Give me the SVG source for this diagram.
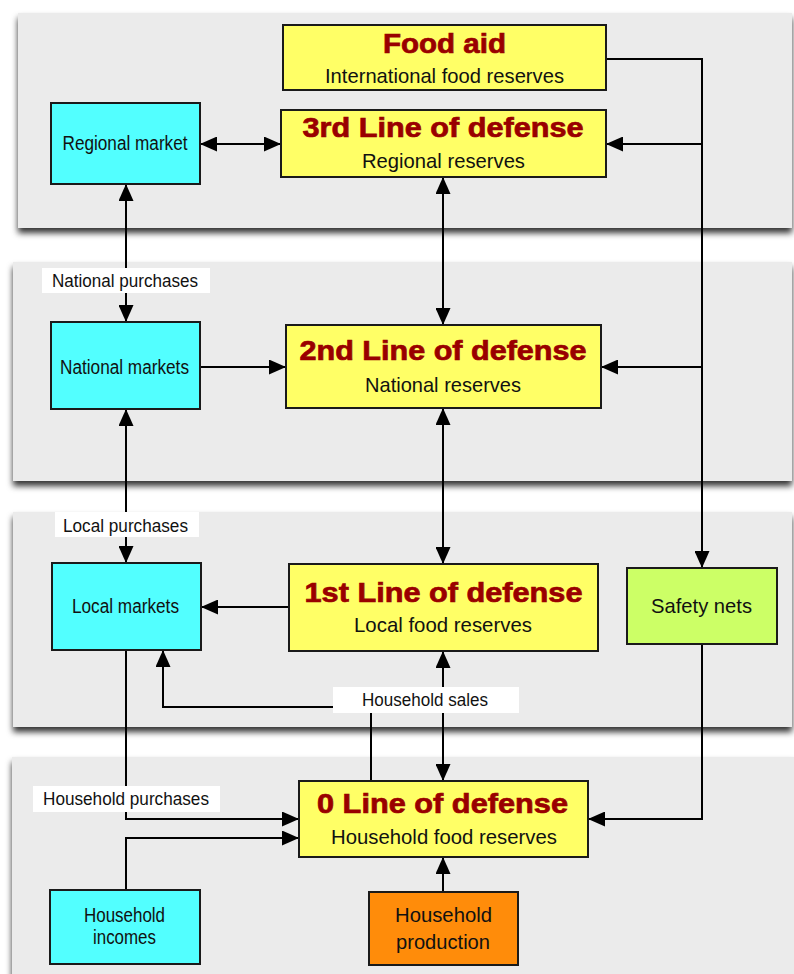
<svg xmlns="http://www.w3.org/2000/svg" width="794" height="974" viewBox="0 0 794 974">
<defs>
<filter id="sh" x="-5%" y="-10%" width="110%" height="125%">
<feDropShadow dx="0" dy="5" stdDeviation="3" flood-color="#000" flood-opacity="0.8"/>
</filter>
<marker id="ah" markerUnits="userSpaceOnUse" markerWidth="17" markerHeight="15" viewBox="0 0 17 15" refX="17" refY="7.5" orient="auto-start-reverse">
<path d="M0,0 L17,7.5 L0,15 z" fill="#000"/>
</marker>
</defs>
<style>
.panel{fill:#ebebeb;}
.box{stroke:#1a1a1a;stroke-width:2;}
.y{fill:#ffff66;}
.c{fill:#52ffff;}
.g{fill:#ccff66;}
.o{fill:#ff8c0a;}
.lbl{fill:#fff;}
.t{font-family:"Liberation Sans",Arial,sans-serif;fill:#111;text-anchor:middle;}
.h{font-family:"Liberation Sans",Arial,sans-serif;font-weight:bold;fill:#990000;stroke:#990000;stroke-width:0.7;text-anchor:middle;font-size:27px;}
.s21{font-size:21px;}
.s20{font-size:20px;}
.s19{font-size:19.5px;}
.s17{font-size:17.5px;}
.ln{fill:none;stroke:#000;stroke-width:2;}
</style>
<rect width="794" height="974" fill="#fff"/>
<g id="panels">
<rect class="panel" x="18" y="13" width="774" height="215" filter="url(#sh)"/>
<rect class="panel" x="13" y="262" width="779" height="219" filter="url(#sh)"/>
<rect class="panel" x="13" y="512" width="779" height="215" filter="url(#sh)"/>
<rect class="panel" x="12" y="757" width="782" height="230" filter="url(#sh)"/>
</g>
<g id="connectors">
<path class="ln" d="M200,144 H281" marker-start="url(#ah)" marker-end="url(#ah)"/>
<path class="ln" d="M606,59 H702 V568" marker-end="url(#ah)"/>
<path class="ln" d="M702,144 H606" marker-end="url(#ah)"/>
<path class="ln" d="M702,367 H601" marker-end="url(#ah)"/>
<path class="ln" d="M443,177 V325" marker-start="url(#ah)" marker-end="url(#ah)"/>
<path class="ln" d="M126,184 V322" marker-start="url(#ah)" marker-end="url(#ah)"/>
<path class="ln" d="M200,367 H286" marker-end="url(#ah)"/>
<path class="ln" d="M443,408 V564" marker-start="url(#ah)" marker-end="url(#ah)"/>
<path class="ln" d="M126,409 V563" marker-start="url(#ah)" marker-end="url(#ah)"/>
<path class="ln" d="M289,607 H201" marker-end="url(#ah)"/>
<path class="ln" d="M371,781 V707 H163 V650" marker-end="url(#ah)"/>
<path class="ln" d="M443,651 V781" marker-start="url(#ah)" marker-end="url(#ah)"/>
<path class="ln" d="M126,650 V819 H299" marker-end="url(#ah)"/>
<path class="ln" d="M126,890 V838 H299" marker-end="url(#ah)"/>
<path class="ln" d="M443,892 V857" marker-end="url(#ah)"/>
<path class="ln" d="M702,644 V819 H588" marker-end="url(#ah)"/>
</g>
<g id="labels">
<g id="lbl-national-purchases"><rect class="lbl" x="42" y="268" width="168" height="25"/><text class="t s17" x="125" y="287" textLength="146" lengthAdjust="spacingAndGlyphs">National purchases</text></g>
<g id="lbl-local-purchases"><rect class="lbl" x="55" y="512" width="144" height="25"/><text class="t s17" x="125.5" y="532" textLength="125" lengthAdjust="spacingAndGlyphs">Local purchases</text></g>
<g id="lbl-household-sales"><rect class="lbl" x="333" y="687" width="186" height="26"/><text class="t s17" x="425" y="706" textLength="126" lengthAdjust="spacingAndGlyphs">Household sales</text></g>
<g id="lbl-household-purchases"><rect class="lbl" x="33" y="786" width="187" height="26"/><text class="t s17" x="126" y="805" textLength="166" lengthAdjust="spacingAndGlyphs">Household purchases</text></g>
</g>
<g id="food-aid"><rect class="box y" x="283" y="25" width="323" height="65"/>
<text class="h" x="444.5" y="53" textLength="123" lengthAdjust="spacingAndGlyphs">Food aid</text>
<text class="t s21" x="444.5" y="83" textLength="239" lengthAdjust="spacingAndGlyphs">International food reserves</text></g>
<g id="line3"><rect class="box y" x="281" y="110" width="325" height="67"/>
<text class="h" x="443" y="137" textLength="281" lengthAdjust="spacingAndGlyphs">3rd Line of defense</text>
<text class="t s21" x="443.5" y="168" textLength="163" lengthAdjust="spacingAndGlyphs">Regional reserves</text></g>
<g id="regional-market"><rect class="box c" x="51" y="103" width="149" height="81"/>
<text class="t s19" x="125" y="150" textLength="125" lengthAdjust="spacingAndGlyphs">Regional market</text></g>
<g id="national-markets"><rect class="box c" x="51" y="322" width="149" height="87"/>
<text class="t s19" x="124.5" y="374" textLength="129" lengthAdjust="spacingAndGlyphs">National markets</text></g>
<g id="line2"><rect class="box y" x="286" y="325" width="315" height="83"/>
<text class="h" x="443" y="360" textLength="287" lengthAdjust="spacingAndGlyphs">2nd Line of defense</text>
<text class="t s21" x="443" y="392" textLength="156" lengthAdjust="spacingAndGlyphs">National reserves</text></g>
<g id="local-markets"><rect class="box c" x="52" y="563" width="149" height="87"/>
<text class="t s19" x="125.5" y="613" textLength="107" lengthAdjust="spacingAndGlyphs">Local markets</text></g>
<g id="line1"><rect class="box y" x="289" y="564" width="309" height="87"/>
<text class="h" x="443.5" y="602" textLength="278" lengthAdjust="spacingAndGlyphs">1st Line of defense</text>
<text class="t s21" x="443" y="632" textLength="178" lengthAdjust="spacingAndGlyphs">Local food reserves</text></g>
<g id="safety-nets"><rect class="box g" x="627" y="568" width="150" height="76"/>
<text class="t s21" x="701.5" y="613" textLength="101" lengthAdjust="spacingAndGlyphs">Safety nets</text></g>
<g id="line0"><rect class="box y" x="299" y="781" width="289" height="76"/>
<text class="h" x="442.5" y="813" textLength="251" lengthAdjust="spacingAndGlyphs">0 Line of defense</text>
<text class="t s21" x="444" y="844" textLength="226" lengthAdjust="spacingAndGlyphs">Household food reserves</text></g>
<g id="household-incomes"><rect class="box c" x="50" y="890" width="150" height="74"/>
<text class="t s19" x="124.5" y="922" textLength="81" lengthAdjust="spacingAndGlyphs">Household</text>
<text class="t s19" x="124.5" y="944" textLength="63" lengthAdjust="spacingAndGlyphs">incomes</text></g>
<g id="household-production"><rect class="box o" x="369" y="892" width="149" height="73"/>
<text class="t s21" x="443.5" y="922" textLength="97" lengthAdjust="spacingAndGlyphs">Household</text>
<text class="t s21" x="443" y="949" textLength="94" lengthAdjust="spacingAndGlyphs">production</text></g>
</svg>
